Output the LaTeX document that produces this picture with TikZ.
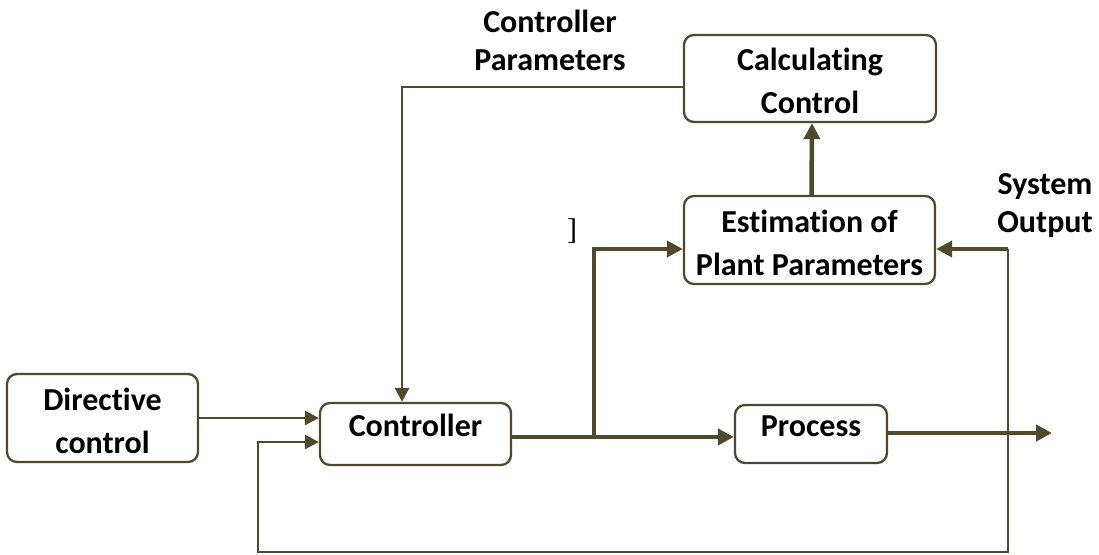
\documentclass[tikz,border=0pt]{standalone}
\usepackage{fontspec}
\setmainfont{Carlito}[Ligatures=NoCommon]
\newfontfamily\bracketfont{Liberation Serif}
\usetikzlibrary{arrows.meta}
\definecolor{ol}{HTML}{4F4A2D}
\newcommand\hs{\rule{0pt}{28pt}}
\begin{document}
\begin{tikzpicture}[x=1pt,y=-1pt,
  box/.style={draw=ol, line width=2.3pt, rounded corners=10pt, fill=white,
    align=center, inner sep=0pt, font=\bfseries\fontsize{32}{43}\selectfont},
  lab/.style={align=center, inner sep=0pt, font=\bfseries\fontsize{32}{38}\selectfont},
  thk/.style={draw=ol, line width=4.5pt},
  thn/.style={draw=ol, line width=2.8pt},
  tip/.style={-{Triangle[length=16pt,width=16pt]}},
  tips/.style={-{Triangle[length=14pt,width=14pt]}}
]
\useasboundingbox (0,0) rectangle (1099,554);
\node[box, minimum width=252pt, minimum height=87pt] (calc) at (810,78.5) {\hs Calculating\\Control};
\node[box, minimum width=251pt, minimum height=88pt] (est) at (809.5,240) {\hs Estimation of\\Plant Parameters};
\node[box, minimum width=191pt, minimum height=88pt] (dir) at (102.5,418) {\hs Directive\\control};
\node[box, minimum width=191pt, minimum height=62pt] (ctrl) at (415.5,434) {\rule[-17pt]{0pt}{23pt}Controller};
\node[box, minimum width=152pt, minimum height=58pt] (proc) at (811,434) {\rule[-15pt]{0pt}{23pt}Process};

\node[lab] (cpl) at (550,40) {Controller\\Parameters};
\node[lab] (sol) at (1045,206) {System\\Output};
\node[font=\bracketfont\fontsize{30}{30}\selectfont, inner sep=0pt] (brk) at (572,231) {]};

\coordinate (cp) at (402,87);
\coordinate (br) at (594,437);
\coordinate (out) at (1052,433);
\coordinate (fbt) at (1008,249);
\coordinate (fbb) at (1008,552);
\coordinate (fbl) at (258,552);

\draw[thn,tips] (calc.west |- cp) -| (cp |- ctrl.north);
\draw[thn,tips] (dir.east) -- (dir.east -| ctrl.west);
\draw[thk,tip] ([yshift=-3pt]ctrl.east) -- ([yshift=-3pt]ctrl.east -| proc.west);
\draw[thk,tip] (br) |- ([yshift=-9pt]est.west);
\draw[thk,tip] ([xshift=2pt]est.north) -- ([xshift=2pt]calc.south);
\draw[thk,tip] ([yshift=1pt]proc.east) -- (out);
\draw[thk,tip] (fbt) -- (fbt -| est.east);
\draw[thn,tips] (fbt) -- (fbb) -- (fbl) |- ([yshift=-8pt]ctrl.west);
\end{tikzpicture}
\end{document}
